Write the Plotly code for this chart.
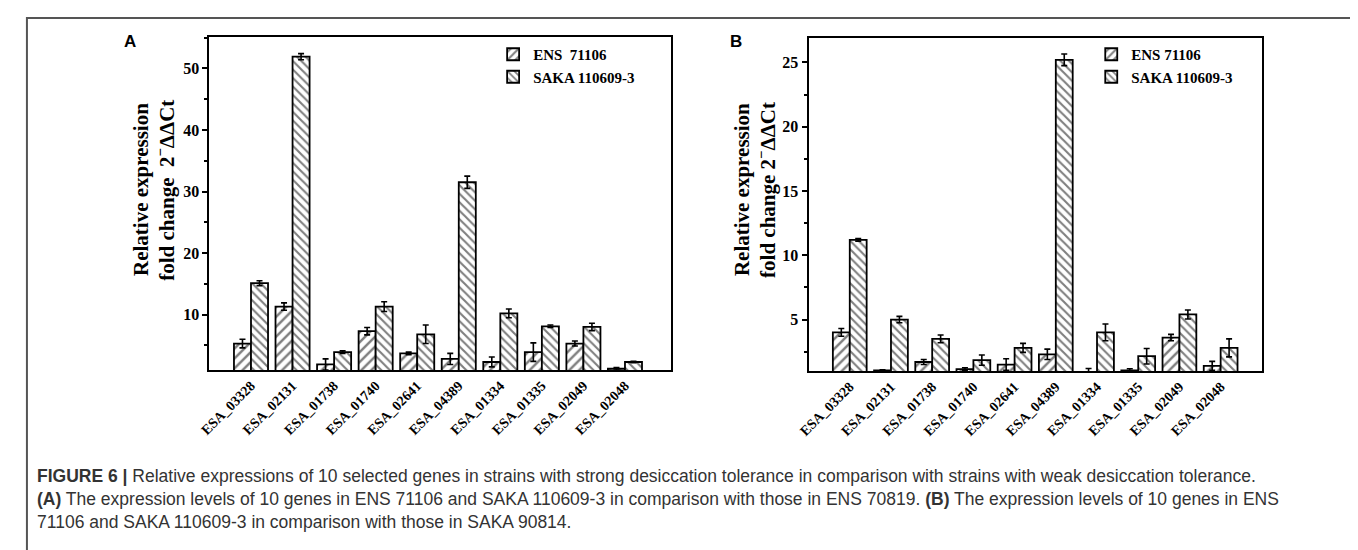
import plotly.graph_objects as go

genes = ["ESA_03328", "ESA_02131", "ESA_01738", "ESA_01740", "ESA_02641",
         "ESA_04389", "ESA_01334", "ESA_01335", "ESA_02049", "ESA_02048"]

# Panel A
a_ens = [5.3, 11.3, 1.9, 7.3, 3.7, 2.8, 2.3, 3.9, 5.3, 1.2]
a_ens_err = [0.7, 0.6, 0.9, 0.6, 0.2, 0.9, 0.8, 1.5, 0.4, 0.2]
a_saka = [15.1, 51.9, 3.9, 11.3, 6.8, 31.5, 10.2, 8.1, 8.0, 2.3]
a_saka_err = [0.4, 0.5, 0.2, 0.8, 1.5, 1.0, 0.7, 0.2, 0.6, 0.1]

# Panel B
b_ens = [4.0, 1.05, 1.7, 1.15, 1.5, 2.3, 0.8, 1.05, 3.6, 1.4]
b_ens_err = [0.3, 0.05, 0.2, 0.1, 0.45, 0.4, 0.4, 0.12, 0.25, 0.35]
b_saka = [11.2, 5.0, 3.5, 1.85, 2.8, 25.2, 4.0, 2.15, 5.4, 2.8]
b_saka_err = [0.1, 0.25, 0.3, 0.4, 0.35, 0.45, 0.65, 0.6, 0.35, 0.7]

W, H = 1358, 550
def px(x): return x / W
def py(y): return 1 - y / H

SERIF = "Liberation Serif"
tick_font = dict(family=SERIF, size=16, color="black", weight="bold")

def bar(name, x, y, err, shape, size, xa, ya, legend):
    return go.Bar(
        name=name, x=x, y=y, xaxis=xa, yaxis=ya, legend=legend, showlegend=True,
        marker=dict(color="white", line=dict(color="black", width=1.8),
                    pattern=dict(shape=shape, fgcolor="black", bgcolor="white",
                                 size=size, solidity=0.35, fillmode="overlay")),
        error_y=dict(type="data", array=err, visible=True, color="black",
                     thickness=1.6, width=3),
    )

fig = go.Figure()
fig.add_trace(bar("ENS  71106", genes, a_ens, a_ens_err, "/", 7, "x", "y", "legend"))
fig.add_trace(bar("SAKA 110609-3", genes, a_saka, a_saka_err, "\\", 6, "x", "y", "legend"))
fig.add_trace(bar("ENS 71106", genes, b_ens, b_ens_err, "/", 7, "x2", "y2", "legend2"))
fig.add_trace(bar("SAKA 110609-3", genes, b_saka, b_saka_err, "\\", 6, "x2", "y2", "legend2"))

xcommon = dict(type="category", showline=True, linecolor="black", linewidth=2,
               mirror=True, ticks="", tickangle=-45,
               tickfont=dict(family=SERIF, size=14, color="black", weight="bold"),
               showgrid=False, zeroline=False)
ycommon = dict(showline=True, linecolor="black", linewidth=2, mirror=True,
               ticks="outside", ticklen=5, tickwidth=1.5, tickcolor="black",
               tickfont=tick_font, showgrid=False, zeroline=False)

legend_font = dict(family=SERIF, size=15, color="black", weight="bold")
fig.update_layout(
    width=W, height=H, margin=dict(l=0, r=0, t=0, b=0),
    paper_bgcolor="white", plot_bgcolor="white",
    barmode="group", bargap=0.18, bargroupgap=0,
    xaxis=dict(domain=[px(192), px(657)], range=[-1, 10.1], anchor="y", **xcommon),
    yaxis=dict(domain=[py(362), py(29)], range=[1, 55.1], dtick=10, anchor="x",
               minor=dict(dtick=5, ticks="outside", ticklen=3, tickwidth=1.5, tickcolor="black"),
               **ycommon),
    xaxis2=dict(domain=[px(796), px(1253)], range=[-1, 10], anchor="y2", **xcommon),
    yaxis2=dict(domain=[py(363), py(30)], range=[1, 26.9], dtick=5, anchor="x2",
                minor=dict(dtick=2.5, ticks="outside", ticklen=3, tickwidth=1.5, tickcolor="black"),
                **ycommon),
    legend=dict(x=px(478), y=py(30), xanchor="left", yanchor="top", font=legend_font,
                bgcolor="rgba(0,0,0,0)", tracegroupgap=0, itemwidth=30),
    legend2=dict(x=px(1081), y=py(30), xanchor="left", yanchor="top", font=legend_font,
                 bgcolor="rgba(0,0,0,0)", tracegroupgap=0, itemwidth=30),
)

ann = []
title_font = dict(family=SERIF, size=21, color="black", weight="bold")
for x0, l2 in [(123, "fold change  2<sup>−</sup>ΔΔCt"), (729, "fold change 2<sup>−</sup>ΔΔCt")]:
    ann.append(dict(text="Relative expression", x=px(x0), y=py(182), xref="paper", yref="paper",
                    textangle=-90, showarrow=False, font=title_font, xanchor="center", yanchor="middle"))
    ann.append(dict(text=l2, x=px(x0 + 24), y=py(182), xref="paper", yref="paper",
                    textangle=-90, showarrow=False, font=title_font, xanchor="center", yanchor="middle"))

panel_font = dict(family="Liberation Sans", size=17, color="black", weight="bold")
for lbl, x0 in [("A", 112), ("B", 723)]:
    ann.append(dict(text=lbl, x=px(x0), y=py(33), xref="paper", yref="paper", showarrow=False,
                    font=panel_font, xanchor="center", yanchor="middle"))

cap_font = dict(family="Liberation Sans", size=17.5, color="#333333")
caption = [
    "<b>FIGURE 6 |</b> Relative expressions of 10 selected genes in strains with strong desiccation tolerance in comparison with strains with weak desiccation tolerance.",
    "<b>(A)</b> The expression levels of 10 genes in ENS 71106 and SAKA 110609-3 in comparison with those in ENS 70819. <b>(B)</b> The expression levels of 10 genes in ENS",
    "71106 and SAKA 110609-3 in comparison with those in SAKA 90814.",
]
for i, line in enumerate(caption):
    ann.append(dict(text=line, x=px(16), y=py(468 + 23 * i), xref="paper", yref="paper",
                    showarrow=False, font=cap_font, xanchor="left", yanchor="middle", align="left"))
fig.update_layout(annotations=ann)

fig.add_shape(type="rect", xref="paper", yref="paper", x0=px(8), x1=px(1355), y0=-0.1, y1=py(10),
              line=dict(color="#555555", width=2), layer="below")

fig.write_html("out.html")
